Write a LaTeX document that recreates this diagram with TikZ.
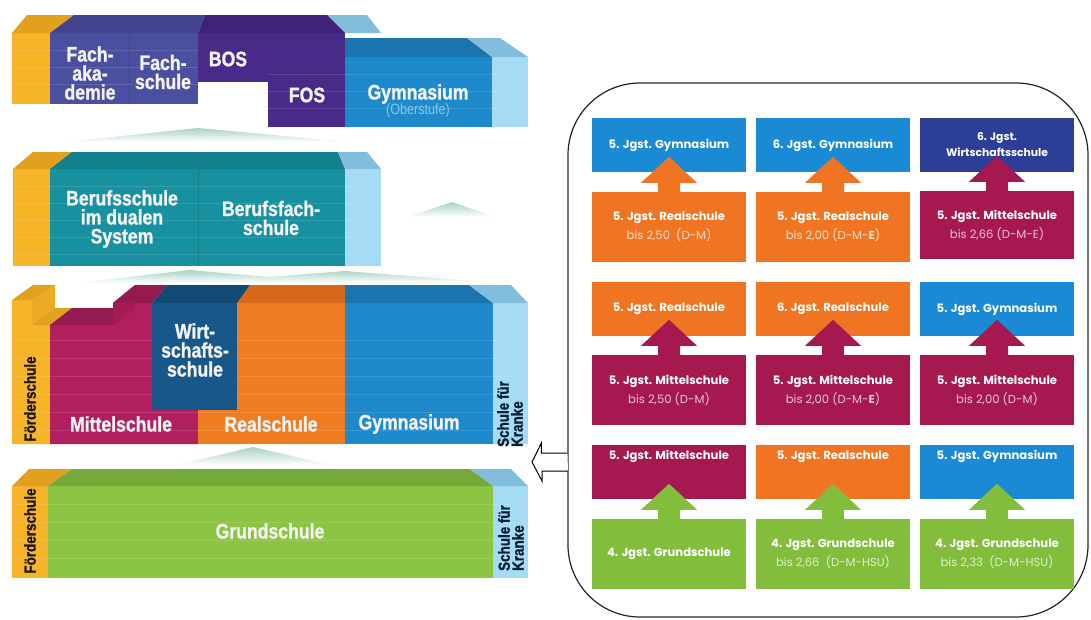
\documentclass[tikz,border=0pt]{standalone}
\usepackage{fontspec}
\setmainfont{Liberation Sans}
\newfontfamily\blockfont[FakeStretch=0.84, FakeBold=1.2]{Liberation Sans}
\newfontfamily\thinfont[FakeStretch=0.84]{Liberation Sans}
\newfontfamily\panelfont{Poppins}
\usetikzlibrary{calc}

% block colours (front / top)
\definecolor{yel}{HTML}{F6B428}
\definecolor{yelTop}{HTML}{E2A01F}
\definecolor{yelSide}{HTML}{EDAA23}
\definecolor{vio}{HTML}{4B4FA0}
\definecolor{vioTop}{HTML}{42448E}
\definecolor{pur}{HTML}{4A2A88}
\definecolor{purTop}{HTML}{3E2377}
\definecolor{gym}{HTML}{1F8ACB}
\definecolor{gymTop}{HTML}{1A74AD}
\definecolor{lb}{HTML}{A5DBF5}
\definecolor{lbTop}{HTML}{82BEDB}
\definecolor{teal}{HTML}{17909F}
\definecolor{tealTop}{HTML}{127F8D}
\definecolor{mag}{HTML}{B21F5E}
\definecolor{magTop}{HTML}{951A4F}
\definecolor{magSide}{HTML}{A31C56}
\definecolor{wirt}{HTML}{18578A}
\definecolor{wirtTop}{HTML}{134A75}
\definecolor{ora}{HTML}{F07C22}
\definecolor{oraTop}{HTML}{D8691B}
\definecolor{grn}{HTML}{8CC443}
\definecolor{grnTop}{HTML}{75AA3A}
\definecolor{mnt}{HTML}{A9D2C3}
\definecolor{labelwhite}{HTML}{F2F2F2}
% panel colours
\definecolor{pBlue}{HTML}{1A8AD4}
\definecolor{pOra}{HTML}{F07522}
\definecolor{pMag}{HTML}{A51850}
\definecolor{pNavy}{HTML}{2D3E96}
\definecolor{pGrn}{HTML}{83BD3C}

% faint brick lines on a block front
\newcommand{\stripes}[3]{\foreach \yy in {#3} \draw[white, opacity=.12, line width=.8pt] (#1,\yy) -- (#2,\yy);}
% up arrow out of the lower box
\newcommand{\jump}[2]{\fill[#2] ($(#1.north)+(-11,0)$) -- ++(0,-9) -- ++(-17,0) -- ++(28,-26) -- ++(28,26) -- ++(-17,0) -- ++(0,9) -- cycle;}

\begin{document}
\begin{tikzpicture}[x=1pt, y=-1pt]
    \tikzstyle{blocktext} = [font=\blockfont\bfseries\fontsize{21}{19}\selectfont, text=labelwhite, align=center, inner sep=0pt]
    \tikzstyle{sidetext} = [font=\blockfont\bfseries\fontsize{16}{14}\selectfont, rotate=90, align=left, inner sep=0pt]
    \tikzstyle{pbox} = [rectangle, minimum width=154pt, align=center, inner sep=0pt, text=white, font=\panelfont\bfseries\fontsize{11.6}{19}\selectfont]
    \tikzstyle{ptop} = [pbox, minimum height=54pt]
    \tikzstyle{pctop} = [ptop, text height=9pt, text depth=35pt]
    \tikzstyle{pbot} = [pbox, minimum height=70pt]
    \tikzstyle{mountain} = [top color=mnt, bottom color=white]

    \useasboundingbox (0,0) rectangle (1091,619);
    \fill[white] (0,0) rectangle (1091,619);

    % Oberstufe
    \fill[lbTop] (327,15) -- (367,15) -- (381,33) -- (345,33) -- cycle;
    \fill[yel] (12,33) rectangle (50,104);
    \fill[yelTop] (12,33) -- (50,33) -- (74,15) -- (27,15) -- cycle;
    \fill[vio] (50,33) rectangle (198,104);
    \fill[vioTop] (50,33) -- (198,33) -- (205,15) -- (74,15) -- cycle;
    \draw[vioTop] (129,33) -- (129,104);
    \fill[pur] (198,33) rectangle (268,82);
    \fill[pur] (268,33) rectangle (345,127);
    \fill[purTop] (198,33) -- (345,33) -- (327,15) -- (205,15) -- cycle;
    \fill[gym] (345,57) rectangle (492,127);
    \fill[gymTop] (345,57) -- (492,57) -- (467,38) -- (345,38) -- cycle;
    \fill[lb] (492,57) rectangle (528,127);
    \fill[lbTop] (492,57) -- (528,57) -- (500,38) -- (467,38) -- cycle;
    \stripes{12}{198}{50,67,84}
    \stripes{268}{528}{74,91,108}
    \shade[mountain] (65,142) -- (198,128) -- (350,142) -- cycle;

    % Berufliche Schulen
    \fill[yel] (13,169) rectangle (50,266);
    \fill[yelTop] (13,169) -- (50,169) -- (72,152) -- (33,152) -- cycle;
    \fill[teal] (50,169) rectangle (345,266);
    \fill[tealTop] (50,169) -- (345,169) -- (338,152) -- (72,152) -- cycle;
    \draw[tealTop] (198,169) -- (198,266);
    \fill[lb] (345,169) rectangle (381,266);
    \fill[lbTop] (345,169) -- (381,169) -- (367,152) -- (338,152) -- cycle;
    \stripes{13}{381}{186,203,220,237,254}
    \shade[mountain] (407,217) -- (452,202) -- (495,217) -- cycle;
    \shade[mountain] (76,283) -- (190,270) -- (268,277) -- (345,271) -- (500,283) -- cycle;

    % Sekundarstufe I
    \fill[yel] (12,300) -- (32,300) -- (32,325) -- (50,325) -- (50,444) -- (12,444) -- cycle;
    \fill[yelTop] (12,300) -- (32,300) -- (55,285) -- (33,285) -- cycle;
    \fill[yelSide] (32,300) -- (55,285) -- (55,308) -- (32,325) -- cycle;
    \fill[yelTop] (32,325) -- (50,325) -- (72,308) -- (55,308) -- cycle;
    \fill[mag] (50,325) -- (113,325) -- (113,303) -- (198,303) -- (198,444) -- (50,444) -- cycle;
    \fill[magTop] (50,325) -- (113,325) -- (135,308) -- (72,308) -- cycle;
    \fill[magSide] (113,303) -- (135,285) -- (135,308) -- (113,325) -- cycle;
    \fill[magTop] (113,303) -- (152,303) -- (167,285) -- (135,285) -- cycle;
    \fill[ora] (198,303) rectangle (345,444);
    \fill[oraTop] (237,303) -- (345,303) -- (345,285) -- (250,285) -- cycle;
    \fill[gym] (345,303) rectangle (493,444);
    \fill[gymTop] (345,303) -- (493,303) -- (469,285) -- (345,285) -- cycle;
    \fill[lb] (493,303) rectangle (528,444);
    \fill[lbTop] (493,303) -- (528,303) -- (511,285) -- (469,285) -- cycle;
    \stripes{12}{528}{340,358,376,394,412,430}
    \fill[wirt] (152,303) rectangle (237,410);
    \fill[wirtTop] (152,303) -- (237,303) -- (250,285) -- (167,285) -- cycle;
    \shade[mountain] (176,465) -- (253,447) -- (331,465) -- cycle;

    % Grundschule
    \fill[yel] (12,486) rectangle (48,578);
    \fill[yelTop] (12,486) -- (48,486) -- (72,469) -- (29,469) -- cycle;
    \fill[grn] (48,486) rectangle (493,578);
    \fill[grnTop] (48,486) -- (493,486) -- (470,469) -- (72,469) -- cycle;
    \fill[lb] (493,486) rectangle (528,578);
    \fill[lbTop] (493,486) -- (528,486) -- (511,469) -- (470,469) -- cycle;
    \stripes{12}{528}{504,522,540,558}

    % labels left
    \node[blocktext] (fak) at (90,73) {Fach-\\aka-\\demie};
    \node[blocktext] (fsch) at (163,72) {Fach-\\schule};
    \node[blocktext] (bos) at (228,59) {BOS};
    \node[blocktext] (fos) at (307,95) {FOS};
    \node[blocktext] (gymo) at (418,94) {Gymnasium};
    \node[font=\thinfont\fontsize{15}{15}\selectfont, text=lb!75!gym, inner sep=0pt] (ober) at (418,111) {(Oberstufe)};
    \node[blocktext] (bsch) at (122,219) {Berufsschule\\im dualen\\System};
    \node[blocktext] (bfs) at (271,218) {Berufsfach-\\schule};
    \node[blocktext] (wsch) at (195,350) {Wirt-\\schafts-\\schule};
    \node[blocktext] (msch) at (121,424) {Mittelschule};
    \node[blocktext] (rsch) at (271,424) {Realschule};
    \node[blocktext] (gymn) at (409,424) {Gymnasium};
    \node[blocktext] (gsch) at (270,531) {Grundschule};
    \node[sidetext, text=black!88!yel] (fds) at (30,399) {Förderschule};
    \node[sidetext, text=black!88!yel] (fdg) at (30,531) {Förderschule};
    \node[sidetext, text=black!75!gym] (sks) at (510,414) {Schule für\\Kranke};
    \node[sidetext, text=black!75!gym] (skg) at (511,538) {Schule für\\Kranke};

    % panel
    \node[draw=black!85, line width=1.2pt, rounded corners=72pt, minimum width=520pt, minimum height=534pt, inner sep=0pt] (panel) at (828,350) {};
    \coordinate (backtip) at (532,462);
    \draw[line width=1pt, fill=white] ($(panel.west |- backtip)+(0,-9)$) -- ++(-26,0) -- ++(0,-10) -- (backtip) -- ++(10,19) -- ++(0,-10) -- ++(26,0);

    \node[ptop, fill=pBlue] (a1t) at (669,145) {5. Jgst. Gymnasium};
    \node[pbot, fill=pOra] (a1b) at (669,227) {5. Jgst. Realschule\\\mdseries\color{white!75!pOra}bis 2,50\ \ (D-M)};
    \node[ptop, fill=pBlue] (a2t) at (833,145) {6. Jgst. Gymnasium};
    \node[pbot, fill=pOra] (a2b) at (833,227) {5. Jgst. Realschule\\\mdseries\color{white!75!pOra}bis 2,00 (D-M-\textbf{E})};
    \node[ptop, fill=pNavy, font=\panelfont\bfseries\fontsize{10.8}{16}\selectfont] (a3t) at (997,145) {6. Jgst.\\Wirtschaftsschule};
    \node[pbot, fill=pMag, minimum height=68pt] (a3b) at (997,225) {5. Jgst. Mittelschule\\\mdseries\color{white!75!pMag}bis 2,66 (D-M-E)};
    \jump{a1b}{pOra}
    \jump{a2b}{pOra}
    \jump{a3b}{pMag}

    \node[ptop, fill=pOra] (b1t) at (669,309) {5. Jgst. Realschule};
    \node[pbot, fill=pMag] (b1b) at (669,390) {5. Jgst. Mittelschule\\\mdseries\color{white!75!pMag}bis 2,50 (D-M)};
    \node[ptop, fill=pOra] (b2t) at (833,309) {6. Jgst. Realschule};
    \node[pbot, fill=pMag] (b2b) at (833,390) {5. Jgst. Mittelschule\\\mdseries\color{white!75!pMag}bis 2,00 (D-M-\textbf{E})};
    \node[ptop, fill=pBlue] (b3t) at (997,309) {5. Jgst. Gymnasium};
    \node[pbot, fill=pMag] (b3b) at (997,390) {5. Jgst. Mittelschule\\\mdseries\color{white!75!pMag}bis 2,00 (D-M)};
    \jump{b1b}{pMag}
    \jump{b2b}{pMag}
    \jump{b3b}{pMag}

    \node[pctop, fill=pMag] (c1t) at (669,472) {5. Jgst. Mittelschule};
    \node[pbot, fill=pGrn] (c1b) at (669,554) {4. Jgst. Grundschule};
    \node[pctop, fill=pOra] (c2t) at (833,472) {5. Jgst. Realschule};
    \node[pbot, fill=pGrn] (c2b) at (833,554) {4. Jgst. Grundschule\\\mdseries\color{white!75!pGrn}bis 2,66\ \ (D-M-HSU)};
    \node[pctop, fill=pBlue] (c3t) at (997,472) {5. Jgst. Gymnasium};
    \node[pbot, fill=pGrn] (c3b) at (997,554) {4. Jgst. Grundschule\\\mdseries\color{white!75!pGrn}bis 2,33\ \ (D-M-HSU)};
    \jump{c1b}{pGrn}
    \jump{c2b}{pGrn}
    \jump{c3b}{pGrn}
\end{tikzpicture}
\end{document}
